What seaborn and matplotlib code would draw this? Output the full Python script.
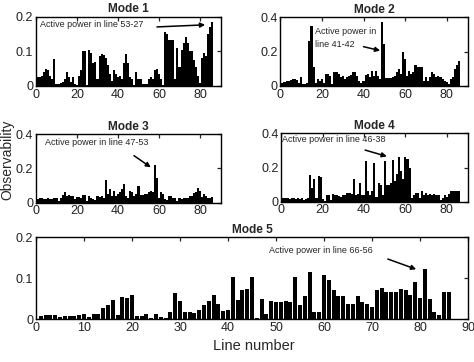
import matplotlib
matplotlib.use("Agg")
import matplotlib.pyplot as plt
import seaborn as sns
from matplotlib import font_manager as fm

lines = list(range(1, 87))

mode1 = [0.027, 0.027, 0.03, 0.04, 0.05, 0.045, 0.03, 0.02, 0.078, 0.005,
         0.005, 0.01, 0.012, 0.02, 0.04, 0.025, 0.012, 0.025, 0.005, 0.004,
         0.03, 0.045, 0.1, 0.1, 0.003, 0.105, 0.095, 0.065, 0.07, 0.02,
         0.085, 0.092, 0.09, 0.08, 0.06, 0.035, 0.015, 0.045, 0.035, 0.025,
         0.03, 0.02, 0.065, 0.092, 0.065, 0.025, 0.02, 0.004, 0.04, 0.02,
         0.02, 0.005, 0.005, 0.005, 0.02, 0.025, 0.02, 0.045, 0.05, 0.035,
         0.02, 0.003, 0.155, 0.15, 0.133, 0.133, 0.133, 0.02, 0.11, 0.055,
         0.105, 0.125, 0.14, 0.125, 0.1, 0.1, 0.075, 0.055, 0.03, 0.01,
         0.08, 0.095, 0.085, 0.15, 0.17, 0.185]

mode2 = [0.02, 0.025, 0.03, 0.03, 0.035, 0.04, 0.04, 0.035, 0.02, 0.055,
         0.01, 0.01, 0.02, 0.26, 0.35, 0.11, 0.02, 0.04, 0.03, 0.04,
         0.02, 0.07, 0.07, 0.06, 0.01, 0.08, 0.08, 0.07, 0.05, 0.06,
         0.04, 0.05, 0.06, 0.065, 0.08, 0.08, 0.06, 0.03, 0.02, 0.03,
         0.065, 0.07, 0.05, 0.09, 0.06, 0.09, 0.06, 0.04, 0.375, 0.245,
         0.045, 0.045, 0.045, 0.05, 0.06, 0.08, 0.1, 0.07, 0.2, 0.16,
         0.06, 0.09, 0.07, 0.08, 0.125, 0.11, 0.11, 0.11, 0.03, 0.05,
         0.03, 0.05, 0.08, 0.07, 0.055, 0.06, 0.05, 0.04, 0.03, 0.025,
         0.01, 0.04, 0.055, 0.1, 0.12, 0.145]

mode3 = [0.02, 0.025, 0.025, 0.02, 0.02, 0.025, 0.02, 0.02, 0.03, 0.025,
         0.01, 0.03, 0.045, 0.06, 0.04, 0.045, 0.04, 0.04, 0.02, 0.035,
         0.035, 0.03, 0.045, 0.045, 0.01, 0.04, 0.03, 0.02, 0.015, 0.04,
         0.035, 0.04, 0.03, 0.13, 0.05, 0.08, 0.04, 0.07, 0.04, 0.05,
         0.06, 0.08, 0.11, 0.04, 0.03, 0.07, 0.06, 0.04, 0.05, 0.1,
         0.045, 0.045, 0.05, 0.05, 0.06, 0.07, 0.06, 0.22, 0.145, 0.03,
         0.065, 0.05, 0.02, 0.015, 0.04, 0.04, 0.03, 0.03, 0.01, 0.03,
         0.02, 0.025, 0.03, 0.03, 0.04, 0.04, 0.055, 0.06, 0.085, 0.07,
         0.035, 0.05, 0.04, 0.03, 0.03, 0.035]

mode4 = [0.02, 0.02, 0.02, 0.015, 0.02, 0.02, 0.015, 0.02, 0.015, 0.02,
         0.01, 0.015, 0.02, 0.155, 0.08, 0.13, 0.02, 0.15, 0.145, 0.015,
         0.005, 0.04, 0.04, 0.01, 0.045, 0.04, 0.04, 0.035, 0.03, 0.04,
         0.04, 0.05, 0.05, 0.045, 0.13, 0.04, 0.045, 0.11, 0.04, 0.04,
         0.24, 0.06, 0.04, 0.06, 0.225, 0.03, 0.11, 0.1, 0.04, 0.24,
         0.1, 0.1, 0.11, 0.245, 0.12, 0.16, 0.26, 0.18, 0.13, 0.26,
         0.25, 0.2, 0.02, 0.04, 0.05, 0.05, 0.02, 0.065, 0.04, 0.05,
         0.04, 0.045, 0.04, 0.045, 0.04, 0.04, 0.01, 0.02, 0.04, 0.03,
         0.045, 0.06, 0.06, 0.065, 0.065, 0.065]

mode5 = [0.008, 0.01, 0.01, 0.01, 0.006, 0.007, 0.007, 0.007, 0.01, 0.012,
         0.006, 0.012, 0.014, 0.027, 0.034, 0.048, 0.011, 0.055, 0.053, 0.06,
         0.007, 0.008, 0.012, 0.004, 0.012, 0.005, 0.004, 0.019, 0.063, 0.045,
         0.017, 0.017, 0.015, 0.022, 0.035, 0.045, 0.06, 0.037, 0.02, 0.022,
         0.104, 0.048, 0.072, 0.074, 0.103, 0.002, 0.049, 0.014, 0.045, 0.043,
         0.042, 0.044, 0.042, 0.103, 0.034, 0.058, 0.116, 0.017, 0.019, 0.107,
         0.097, 0.072, 0.057, 0.057, 0.038, 0.038, 0.057, 0.043, 0.037, 0.03,
         0.071, 0.077, 0.067, 0.067, 0.067, 0.075, 0.071, 0.06, 0.091, 0.053,
         0.122, 0.05, 0.017, 0.011, 0.066, 0.067]

titles = ["Mode 1", "Mode 2", "Mode 3", "Mode 4", "Mode 5"]
xticks_small = [0, 20, 40, 60, 80]
xticks_big = [0, 10, 20, 30, 40, 50, 60, 70, 80, 90]
yticks_01 = [0, 0.1, 0.2]
ylabels_01 = ["0", "0.1", "0.2"]
yticks_02 = [0, 0.2, 0.4]
ylabels_02 = ["0", "0.2", "0.4"]
notes = ["Active power in line 53-27", "Active power in\nline 41-42",
         "Active power in line 47-53", "Active power in line 46-38",
         "Active power in line 66-56"]

sns.set_style("white")
names = {f.name for f in fm.fontManager.ttflist}
narrow = "Liberation Sans Narrow" if "Liberation Sans Narrow" in names else "Liberation Sans"
plt.rcParams["font.family"] = [narrow, "DejaVu Sans"]

W, H = 474, 362
fig = plt.figure(figsize=(W / 100, H / 100), dpi=100)

def box(x0, x1, ytop, ybot):
    return [x0 / W, 1 - ybot / H, (x1 - x0) / W, (ybot - ytop) / H]

specs = [
    (mode1, box(36, 220.5, 16.5, 86), yticks_01, ylabels_01, xticks_small, 1.0),
    (mode2, box(280.3, 467.5, 17.3, 86), yticks_02, ylabels_02, xticks_small, 1.0),
    (mode3, box(36, 220.5, 134, 202.7), yticks_02, ylabels_02, xticks_small, 1.0),
    (mode4, box(281.3, 467.5, 133.3, 201.7), yticks_02, ylabels_02, xticks_small, 1.0),
    (mode5, box(36, 468, 237.3, 319.3), yticks_01, ylabels_01, xticks_big, 0.87),
]

axes = []
for i, (vals, rect, yt, yl, xt, wd) in enumerate(specs):
    ax = fig.add_axes(rect)
    sns.barplot(x=lines, y=vals, native_scale=True, color="black", saturation=1,
                width=wd, linewidth=0, errorbar=None, ax=ax)
    ax.set_xlim(0, 90)
    ax.set_ylim(yt[0], yt[-1])
    ax.set_xticks(xt)
    ax.set_xticklabels([str(v) for v in xt])
    ax.set_yticks(yt)
    ax.set_yticklabels(yl)
    ax.tick_params(direction="in", top=True, right=True, length=3, width=0.9,
                   labelsize=9, labelcolor="#222222", pad=2)
    for s in ax.spines.values():
        s.set_linewidth(1.0)
        s.set_color("black")
    ax.set_xlabel("")
    ax.set_ylabel("")
    ax.set_title(titles[i], fontsize=8.6, fontweight="bold", pad=3)
    axes.append(ax)

fs = 6.5
arrow = dict(arrowstyle="-|>", color="black", lw=1.1, mutation_scale=7,
             shrinkA=0, shrinkB=0)
axes[0].text(2, 0.177, notes[0], fontsize=fs, va="center", ha="left")
axes[0].annotate("", xy=(82.5, 0.176), xytext=(59, 0.17), arrowprops=arrow)
axes[1].text(16.5, 0.345, notes[1], fontsize=fs, va="top", ha="left", linespacing=1.6)
axes[1].annotate("", xy=(48, 0.206), xytext=(40, 0.229), arrowprops=arrow)
axes[2].text(4.4, 0.35, notes[2], fontsize=fs, va="center", ha="left")
axes[2].annotate("", xy=(56, 0.206), xytext=(47.8, 0.274), arrowprops=arrow)
axes[3].text(0.3, 0.364, notes[3], fontsize=fs, va="center", ha="left")
axes[3].annotate("", xy=(51, 0.265), xytext=(40.5, 0.302), arrowprops=arrow)
axes[4].text(48.5, 0.167, notes[4], fontsize=fs, va="center", ha="left")
axes[4].annotate("", xy=(79.2, 0.122), xytext=(73.3, 0.147), arrowprops=arrow)

fig.text(7.5 / W, 1 - 160 / H, "Observability", rotation=90, fontsize=10,
         va="center", ha="center")
fig.text(254 / W, 1 - 346 / H, "Line number", fontsize=10.5, va="center", ha="center")

fig.savefig("out.png", dpi=100)
